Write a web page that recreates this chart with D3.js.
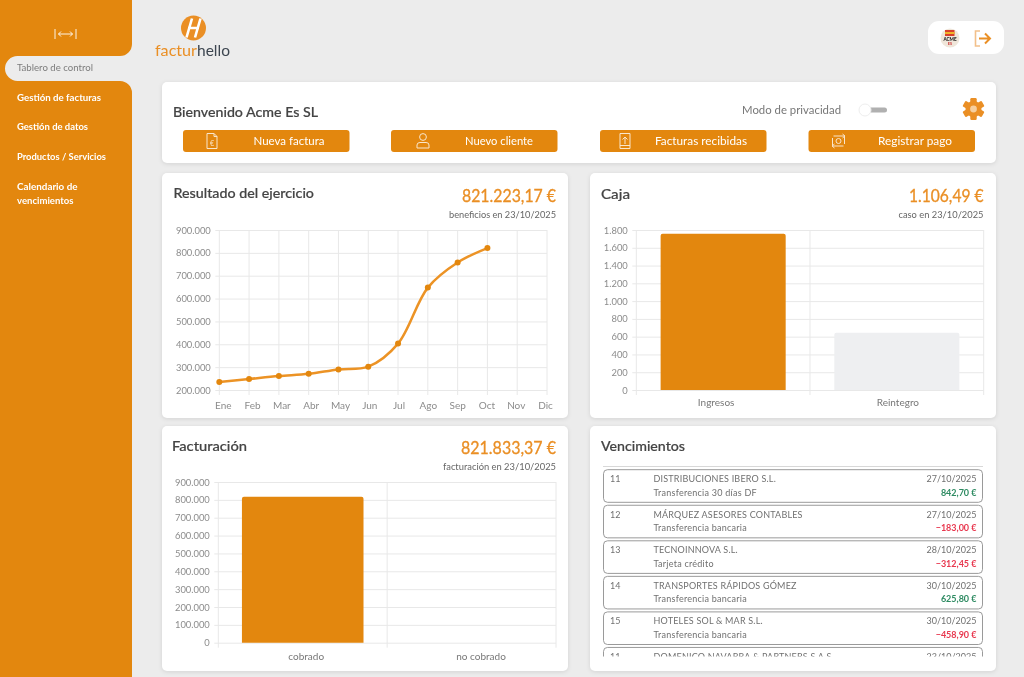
<!DOCTYPE html>
<html lang="es">
<head>
<meta charset="utf-8">
<title>facturhello</title>
<script src="https://cdn.jsdelivr.net/npm/d3@7"></script>
<style>
  html, body { margin: 0; padding: 0; background: #ececec; overflow: hidden; }
  svg { display: block; font-family: Lato, sans-serif; filter: blur(0.35px); }
  .card { fill: #fff; filter: drop-shadow(0 1px 2px rgba(0,0,0,.10)); }
  .grid line { stroke: #e8e8e8; stroke-width: 1; }
  .axis text { fill: #8c8c8c; font-size: 9.4px; font-family: Lato, sans-serif; }
  .axis .domain { display: none; }
  .axis line { stroke: #e8e8e8; }
  .xlabels text { font-size: 10px; }
</style>
</head>
<body>
<div id="wrapper"></div>
<script>
// data
const navItems = ["Gestión de facturas", "Gestión de datos", "Productos / Servicios"]
const buttonLabels = ["Nueva factura", "Nuevo cliente", "Facturas recibidas", "Registrar pago"]

const months = ["Ene", "Feb", "Mar", "Abr", "May", "Jun", "Jul", "Ago", "Sep", "Oct", "Nov", "Dic"]
const resultValues = [235000, 248000, 261000, 271000, 290000, 302000, 403000, 648000, 758000, 821000]

const cajaLabels = ["Ingresos", "Reintegro"]
const cajaValues = [1758, 645]

const factLabels = ["cobrado", "no cobrado"]
const factValues = [818000, 0]

const dueNumbers = ["11", "12", "13", "14", "15", "11"]
const dueNames = ["DISTRIBUCIONES IBERO S.L.", "MÁRQUEZ ASESORES CONTABLES", "TECNOINNOVA S.L.", "TRANSPORTES RÁPIDOS GÓMEZ", "HOTELES SOL & MAR S.L.", "DOMENICO NAVARRA & PARTNERS S.A.S."]
const dueDates = ["27/10/2025", "27/10/2025", "28/10/2025", "30/10/2025", "30/10/2025", "23/10/2025"]
const dueMethods = ["Transferencia 30 días DF", "Transferencia bancaria", "Tarjeta crédito", "Transferencia bancaria", "Transferencia bancaria", ""]
const dueAmounts = ["842,70 €", "−183,00 €", "−312,45 €", "625,80 €", "−458,90 €", ""]

const orange = "#e3870e"
const amountOrange = "#ea8f25"
const dark = "#444"

const esLocale = d3.formatLocale({ decimal: ",", thousands: ".", grouping: [3], currency: ["", " €"] })
const formatNumber = esLocale.format(",d")

const svg = d3.select("#wrapper").append("svg")
  .attr("width", 1024)
  .attr("height", 677)

// small text helper, width forces the reference's text extent
function label(parent, x, y, str, opts = {}) {
  const t = parent.append("text")
    .attr("x", x)
    .attr("y", y)
    .attr("dy", "0.35em")
    .attr("text-anchor", opts.anchor || "start")
    .attr("font-size", opts.size || 10)
    .attr("font-weight", opts.weight || 400)
    .attr("fill", opts.fill || dark)
    .text(str)
  if (opts.width) t.attr("textLength", opts.width).attr("lengthAdjust", "spacingAndGlyphs")
  if (opts.thick) t.attr("stroke", opts.fill || dark).attr("stroke-width", opts.thick)
  return t
}

// 1. Sidebar

svg.append("rect").attr("width", 132).attr("height", 677).attr("fill", orange)
svg.append("path")
  .attr("d", "M132,44 A12,12 0 0 1 120,56 L17.5,56 A12.5,12.5 0 0 0 17.5,81 L120,81 A12,12 0 0 1 132,93 Z")
  .attr("fill", "#ececec")
label(svg, 17, 67.3, "Tablero de control", { size: 9.5, fill: "#7c7c7c", width: 76 })

const expand = svg.append("g").attr("stroke", "#fff").attr("fill", "none").attr("stroke-width", 0.9)
expand.append("path").attr("d", "M55,29 V39 M76,29 V39 M58.5,34 H72.5 M61,31.5 L58.5,34 L61,36.5 M70,31.5 L72.5,34 L70,36.5")

const navWidths = [84, 71, 89]
navItems.forEach((d, i) => {
  label(svg, 17, 97.2 + i * 29.7, d, { size: 10, weight: 700, fill: "#fff", width: navWidths[i] })
})
label(svg, 17, 186, "Calendario de", { size: 10, weight: 700, fill: "#fff", width: 60.5 })
label(svg, 17, 200.3, "vencimientos", { size: 10, weight: 700, fill: "#fff", width: 56.5 })

// 2. Logo and user box

svg.append("circle").attr("cx", 193.5).attr("cy", 28).attr("r", 12.5).attr("fill", amountOrange)
svg.append("path")
  .attr("d", "M192,18.5 L186.5,37.5 M200.5,18.5 L195,37.5 M188,28 H199")
  .attr("stroke", "#fff").attr("stroke-width", 2.6).attr("fill", "none")
label(svg, 155, 50.5, "factur", { size: 15, fill: amountOrange, width: 42 })
label(svg, 197, 50.5, "hello", { size: 15, fill: "#3d4650", width: 33 })

svg.append("rect").attr("x", 928).attr("y", 21).attr("width", 76).attr("height", 33).attr("rx", 11).attr("fill", "#fff")
svg.append("circle").attr("cx", 950).attr("cy", 38).attr("r", 9.5).attr("fill", "#efe6da")
svg.append("rect").attr("x", 945).attr("y", 30).attr("width", 9.5).attr("height", 6).attr("fill", "#d8402b")
svg.append("rect").attr("x", 945).attr("y", 32).attr("width", 9.5).attr("height", 2).attr("fill", "#f0b429")
label(svg, 950, 39, "ACME", { size: 4.6, weight: 900, anchor: "middle", fill: "#222" })
label(svg, 950, 43.5, "ES", { size: 3.8, weight: 700, anchor: "middle", fill: "#c33" })
svg.append("path")
  .attr("d", "M980,31 H975.5 V46 H980").attr("fill", "none").attr("stroke", "#f2c08a").attr("stroke-width", 1.6)
svg.append("path")
  .attr("d", "M979,38.5 H990 M985,33.5 L990,38.5 L985,43.5").attr("fill", "none").attr("stroke", amountOrange).attr("stroke-width", 2)

// 3. Welcome card

function card(x, y, w, h) {
  svg.append("rect").attr("class", "card").attr("x", x).attr("y", y).attr("width", w).attr("height", h).attr("rx", 5)
}
card(162, 82, 834, 81)
label(svg, 173, 112, "Bienvenido Acme Es SL", { size: 14, weight: 500, width: 145, fill: "#444", thick: 0.2 })
label(svg, 742, 110, "Modo de privacidad", { size: 11, fill: "#777", width: 99 })

svg.append("rect").attr("x", 862).attr("y", 107.5).attr("width", 25).attr("height", 5).attr("rx", 2.5).attr("fill", "#b0b0b0")
svg.append("circle").attr("cx", 865).attr("cy", 110).attr("r", 6).attr("fill", "#fff").attr("stroke", "#eee")

const gear = svg.append("g").attr("transform", "translate(973.5,109)")
gear.selectAll("rect").data(d3.range(0, 180, 60)).join("rect")
  .attr("x", -3.2).attr("y", -11).attr("width", 6.4).attr("height", 22).attr("rx", 1.2)
  .attr("fill", amountOrange)
  .attr("transform", d => `rotate(${d})`)
gear.append("circle").attr("r", 8).attr("fill", amountOrange)
gear.append("circle").attr("r", 3.4).attr("fill", "#f6cf9f")

const buttonX = [183, 391, 600, 808.5]
const iconOffset = [29, 32, 25, 30]
const textCenter = [106, 108, 101, 106.5]
const textWidths = [71, 68, 92, 74]
buttonLabels.forEach((d, i) => {
  const g = svg.append("g").attr("transform", `translate(${buttonX[i]},130)`)
  g.append("rect").attr("width", 166.5).attr("height", 22).attr("rx", 3).attr("fill", orange)
  label(g, textCenter[i], 11, d, { size: 11, anchor: "middle", fill: "#fff", width: textWidths[i] })
  const icon = g.append("g")
    .attr("transform", `translate(${iconOffset[i]},11)`)
    .attr("fill", "none").attr("stroke", "#f9e6cc").attr("stroke-width", 1)
  if (i === 0) {
    icon.append("path").attr("d", "M-5,-7.5 H2 L5,-4.5 V7.5 H-5 Z M2,-7.5 V-4.5 H5")
    label(icon, 0, 2.5, "€", { size: 7, anchor: "middle", fill: "#f9e6cc" }).attr("stroke", "none")
  } else if (i === 1) {
    icon.append("circle").attr("cy", -4).attr("r", 3.4)
    icon.append("path").attr("d", "M-6,7 V4 Q-6,1.5 -3,1.5 H3 Q6,1.5 6,4 V7 Z")
  } else if (i === 2) {
    icon.append("path").attr("d", "M-5,-7.5 H5 V7.5 H-5 Z M0,3 V-4 M-2.5,-1.5 L0,-4 L2.5,-1.5 M-5,4.5 H5")
  } else {
    icon.append("path").attr("d", "M-5,-5 H6 V3 M5,5 H-6 V-3 M4,-7 L6.5,-5 L4,-3 M-4,3 L-6.5,5 L-4,7")
    icon.append("circle").attr("r", 2.5)
  }
})

// 4. Card headers

function header(x, title, titleWidth, right, amount, amountWidth, note, noteWidth, titleY, amountY, noteY) {
  label(svg, x, titleY, title, { size: 14, weight: 500, width: titleWidth, fill: "#444", thick: 0.2 })
  if (amount) {
    label(svg, right, amountY, amount, { size: 17, anchor: "end", fill: amountOrange, width: amountWidth, thick: 0.3 })
    label(svg, right, noteY, note, { size: 9, anchor: "end", fill: "#666", width: noteWidth })
  }
}

card(162, 173, 406, 245)
card(590, 173, 406, 245)
card(162, 426, 406, 245)
card(590, 426, 406, 245)

header(173.5, "Resultado del ejercicio", 140.5, 556, "821.223,17 €", 94, "beneficios en 23/10/2025", 107, 193.5, 196.5, 215)
header(601, "Caja", 29, 983.5, "1.106,49 €", 74.5, "caso en 23/10/2025", 85, 194, 196.5, 215)
header(172, "Facturación", 75, 556, "821.833,37 €", 95, "facturación en 23/10/2025", 113, 446, 448, 467)
header(601, "Vencimientos", 84, 0, null, 0, null, 0, 446, 0, 0)

// 5. Shared axis for the charts

function drawYAxis(g, yScale, ticks, width) {
  const axis = g.append("g").attr("class", "axis")
    .call(d3.axisLeft(yScale).tickValues(ticks).tickFormat(formatNumber).tickPadding(8.5).tickSize(0))
  axis.selectAll(".tick line")
    .attr("x1", -4)
    .attr("x2", width)
    .attr("stroke", d => d === 0 ? "#dcdcdc" : "#e8e8e8")
  return axis
}

// 6. Resultado del ejercicio

{
  const x0 = 219.3, x1 = 547, y0 = 390, y1 = 230
  const bounds = svg.append("g").attr("transform", `translate(${x0},${y1})`)
  const xScale = d3.scalePoint().domain(months).range([0, x1 - x0])
  const xLabelScale = d3.scalePoint().domain(months).range([3.5, x1 - x0 - 2])
  const yScale = d3.scaleLinear().domain([200000, 900000]).range([y0 - y1, 0])

  bounds.append("g").attr("class", "grid").selectAll("line").data(months).join("line")
    .attr("x1", d => xScale(d)).attr("x2", d => xScale(d))
    .attr("y1", 0).attr("y2", y0 - y1 + 5)
  drawYAxis(bounds, yScale, d3.range(200000, 900001, 100000), x1 - x0)

  bounds.append("g").attr("class", "axis xlabels")
    .attr("transform", `translate(0,${y0 - y1})`)
    .call(d3.axisBottom(xLabelScale).tickSize(0).tickPadding(12))

  const lineGenerator = d3.line()
    .x((d, i) => xScale(months[i]))
    .y(d => yScale(d))
    .curve(d3.curveCatmullRom.alpha(0.5))

  bounds.append("path").datum(resultValues)
    .attr("d", lineGenerator)
    .attr("fill", "none")
    .attr("stroke", "#ec9325")
    .attr("stroke-width", 2.5)

  bounds.selectAll("circle").data(resultValues).join("circle")
    .attr("cx", (d, i) => xScale(months[i]))
    .attr("cy", d => yScale(d))
    .attr("r", 3)
    .attr("fill", orange)
}

// 7. Bar charts

function drawBars(x0, x1, y0, y1, labels, values, maxValue, ticks, colors, labelPadding, labelShift) {
  const bounds = svg.append("g").attr("transform", `translate(${x0},${y1})`)
  const xScale = d3.scaleBand().domain(labels).range([0, x1 - x0]).paddingInner(0.28).paddingOuter(0.14)
  const yScale = d3.scaleLinear().domain([0, maxValue]).range([y0 - y1, 0])
  const full = x1 - x0

  bounds.append("g").attr("class", "grid").selectAll("line").data([0, 0.5, 1]).join("line")
    .attr("x1", d => d * full).attr("x2", d => d * full)
    .attr("y1", 0).attr("y2", y0 - y1 + 5)
  drawYAxis(bounds, yScale, ticks, full)

  bounds.append("g").attr("class", "axis xlabels")
    .attr("transform", `translate(0,${y0 - y1})`)
    .call(d3.axisBottom(xScale).tickSize(0).tickPadding(labelPadding))
    .selectAll("text")
    .attr("dx", (d, i) => labelShift[i])
    .style("fill", "#777")

  bounds.selectAll(".bar").data(values).join("path")
    .attr("class", "bar")
    .attr("fill", (d, i) => colors[i])
    .attr("d", (d, i) => {
      const bx = xScale(labels[i]), bw = xScale.bandwidth(), by = yScale(d), r = Math.min(2, (y0 - y1 - by))
      return `M${bx},${y0 - y1} V${by + r} Q${bx},${by} ${bx + r},${by} H${bx + bw - r} Q${bx + bw},${by} ${bx + bw},${by + r} V${y0 - y1} Z`
    })
}

drawBars(636.3, 983.7, 390, 230, cajaLabels, cajaValues, 1800, d3.range(0, 1801, 200), [orange, "#eeeff1"], 9, [-7, 1])
drawBars(218.3, 556, 642.7, 482, factLabels, factValues, 900000, d3.range(0, 900001, 100000), [orange, orange], 10, [3.5, 9.5])

// 8. Vencimientos list

svg.append("line").attr("x1", 603).attr("x2", 983).attr("y1", 466.5).attr("y2", 466.5).attr("stroke", "#d8d8d8")

svg.append("clipPath").attr("id", "listClip")
  .append("rect").attr("x", 600).attr("y", 467).attr("width", 386).attr("height", 189.5)

const list = svg.append("g").attr("clip-path", "url(#listClip)")
const rowScale = d3.scaleBand().domain(d3.range(dueNames.length)).range([469.7, 469.7 + 35.55 * 6])

const rows = list.selectAll("g").data(dueNames).join("g")
  .attr("transform", (d, i) => `translate(603.5,${rowScale(i)})`)

rows.append("rect")
  .attr("width", 379).attr("height", 32.6).attr("rx", 4)
  .attr("fill", "#fff").attr("stroke", "#8f8f8f").attr("stroke-width", 0.9)

rows.each(function (d, i) {
  const row = d3.select(this)
  label(row, 6.5, 9.3, dueNumbers[i], { size: 9, fill: "#707070" })
  label(row, 50, 9.3, d, { size: 9, fill: "#707070" }).attr("letter-spacing", 0.2)
  label(row, 373, 9.3, dueDates[i], { size: 9, fill: "#707070", anchor: "end" })
  label(row, 50, 22.7, dueMethods[i], { size: 9, fill: "#707070" }).attr("letter-spacing", 0.25)
  const negative = dueAmounts[i].startsWith("−")
  label(row, 373, 22.7, dueAmounts[i], { size: 9, weight: 700, anchor: "end", fill: negative ? "#e8384f" : "#2e8b62" })
})
</script>
</body>
</html>
